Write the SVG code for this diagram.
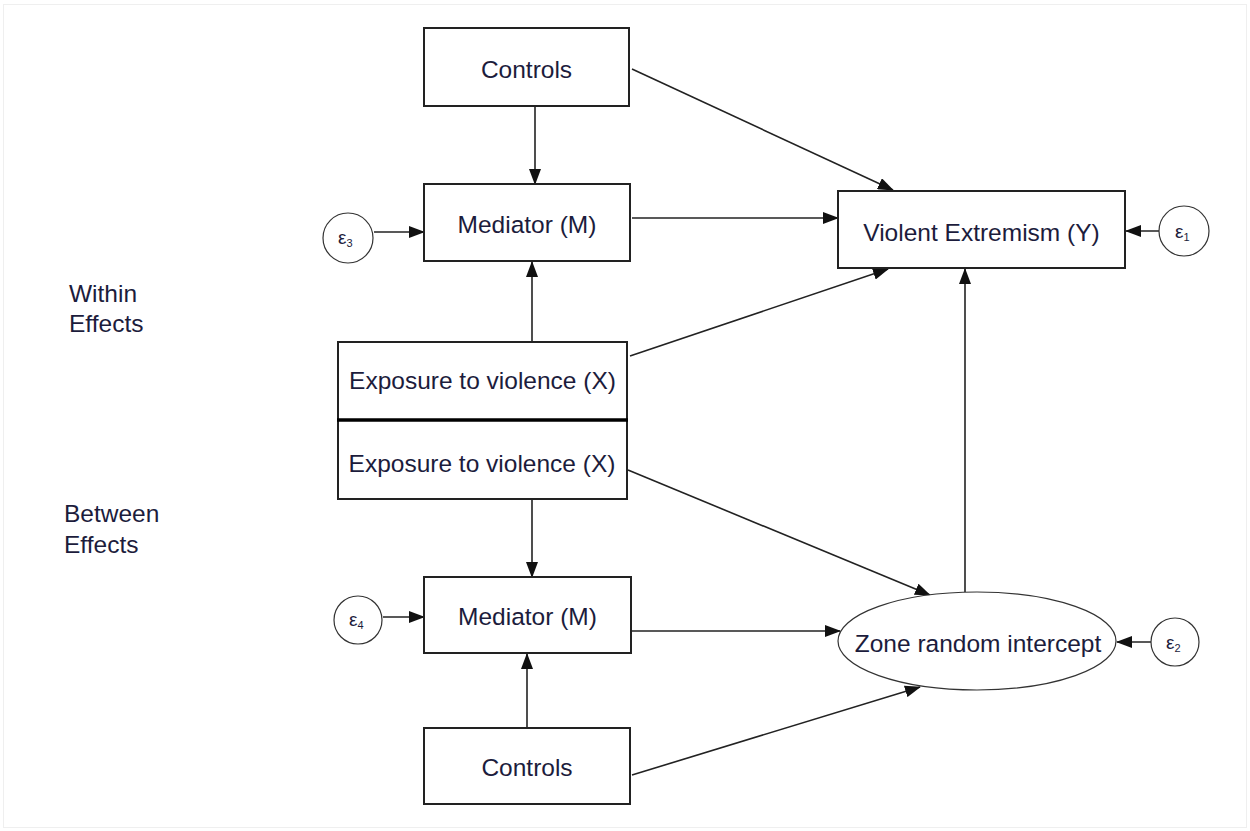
<svg xmlns="http://www.w3.org/2000/svg" width="1250" height="831" viewBox="0 0 1250 831">
<defs>
<style>
.box{fill:#fff;stroke:#222;stroke-width:2}
.err{fill:#fff;stroke:#333;stroke-width:1.2}
.lbl{font-family:"Liberation Sans",Arial,sans-serif;font-size:24.5px;fill:#1c1c3c;text-anchor:middle}
.side{font-family:"Liberation Sans",Arial,sans-serif;font-size:24.5px;fill:#1c1c3c}
.eps{font-family:"Liberation Sans",Arial,sans-serif;font-size:19px;fill:#1c1c3c}
.sub{font-size:11px}
.conn line{stroke:#222;stroke-width:1.6;marker-end:url(#ah)}
</style>
<marker id="ah" markerUnits="userSpaceOnUse" markerWidth="16" markerHeight="12" viewBox="0 0 16 12" refX="15" refY="6" orient="auto">
<path d="M0,0 L16,6 L0,12 Z" fill="#111"/>
</marker>
</defs>
<rect x="0" y="0" width="1250" height="831" fill="#fff"/>
<rect x="3.5" y="4.5" width="1243" height="823" fill="none" stroke="#efefef" stroke-width="1"/>

<g class="conn">
<line x1="535" y1="107" x2="535" y2="184"/>
<line x1="632" y1="69" x2="893" y2="190"/>
<line x1="632" y1="218" x2="838" y2="218"/>
<line x1="374" y1="232" x2="424" y2="232"/>
<line x1="532" y1="342" x2="532" y2="262"/>
<line x1="630" y1="356" x2="888" y2="269"/>
<line x1="1159" y1="231" x2="1126" y2="231"/>
<line x1="965" y1="592" x2="965" y2="269"/>
<line x1="628" y1="470" x2="930" y2="595"/>
<line x1="532" y1="499" x2="532" y2="577"/>
<line x1="383" y1="617" x2="424" y2="617"/>
<line x1="632" y1="631" x2="840" y2="631"/>
<line x1="527" y1="728" x2="527" y2="654"/>
<line x1="632" y1="775" x2="920" y2="687"/>
<line x1="1151" y1="642" x2="1117" y2="642"/>
</g>

<g id="controls-top">
<rect class="box" x="424" y="28" width="205" height="78"/>
<text class="lbl" x="526.5" y="78">Controls</text>
</g>
<g id="mediator-top">
<rect class="box" x="424" y="184" width="206" height="77"/>
<text class="lbl" x="527" y="233">Mediator (M)</text>
</g>
<g id="violent-extremism">
<rect class="box" x="838" y="191" width="287" height="77"/>
<text class="lbl" x="981.5" y="241">Violent Extremism (Y)</text>
</g>
<g id="exposure-within">
<rect class="box" x="338" y="342" width="289" height="78"/>
<text class="lbl" x="482.5" y="389">Exposure to violence (X)</text>
</g>
<g id="exposure-between">
<rect class="box" x="338" y="420" width="289" height="79"/>
<text class="lbl" x="482" y="472">Exposure to violence (X)</text>
</g>
<line x1="337" y1="420" x2="628" y2="420" stroke="#000" stroke-width="3.5"/>
<g id="mediator-bottom">
<rect class="box" x="424" y="577" width="207" height="76"/>
<text class="lbl" x="527.5" y="625">Mediator (M)</text>
</g>
<g id="controls-bottom">
<rect class="box" x="424" y="728" width="206" height="76"/>
<text class="lbl" x="527" y="776">Controls</text>
</g>
<g id="zone-random-intercept">
<ellipse class="err" cx="977" cy="641" rx="139" ry="49"/>
<text class="lbl" x="978" y="652">Zone random intercept</text>
</g>
<g id="e1">
<circle class="err" cx="1184" cy="231" r="25"/>
<text class="eps" x="1175" y="238">ε<tspan class="sub" dy="3">1</tspan></text>
</g>
<g id="e2">
<circle class="err" cx="1175" cy="642" r="24"/>
<text class="eps" x="1166" y="649">ε<tspan class="sub" dy="3">2</tspan></text>
</g>
<g id="e3">
<circle class="err" cx="348" cy="238" r="25"/>
<text class="eps" x="338" y="244">ε<tspan class="sub" dy="3">3</tspan></text>
</g>
<g id="e4">
<circle class="err" cx="358" cy="620" r="24"/>
<text class="eps" x="349" y="626">ε<tspan class="sub" dy="3">4</tspan></text>
</g>
<g id="within-label">
<text class="side" x="69" y="302">Within</text>
<text class="side" x="69" y="332">Effects</text>
</g>
<g id="between-label">
<text class="side" x="64" y="522">Between</text>
<text class="side" x="64" y="553">Effects</text>
</g>
</svg>
